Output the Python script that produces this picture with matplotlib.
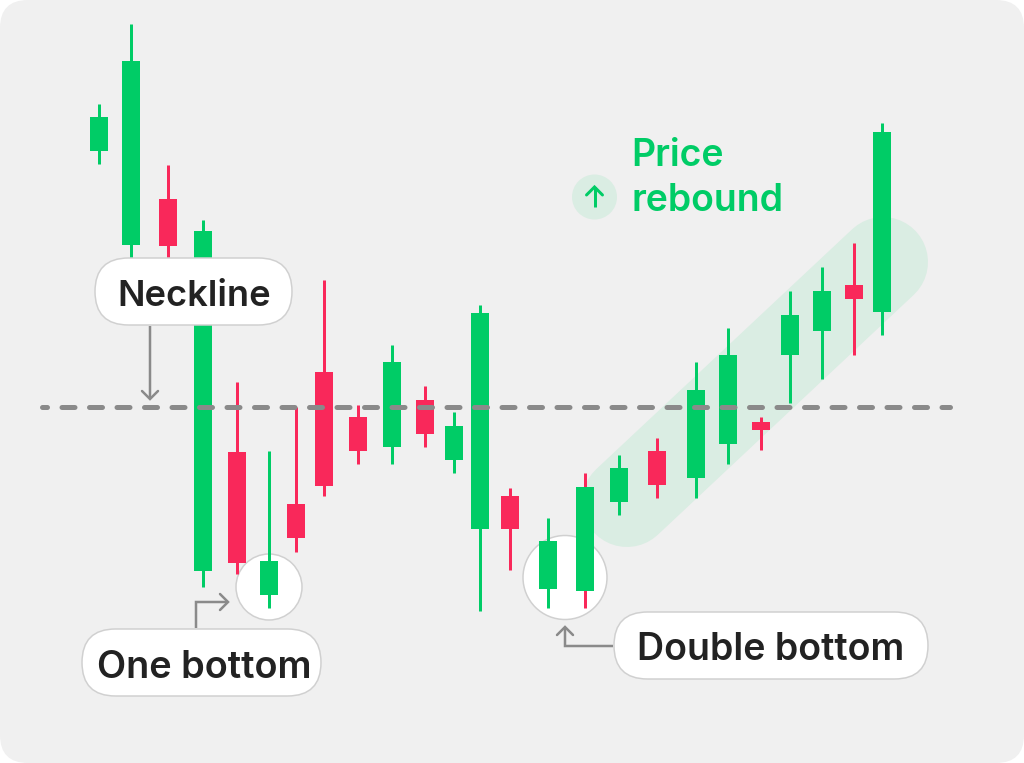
import matplotlib
matplotlib.use("Agg")
import matplotlib.pyplot as plt
from matplotlib.patches import FancyBboxPatch, Circle
from matplotlib.lines import Line2D

candle_x = [99, 131, 168, 203, 237, 269, 296, 324, 358, 392, 425, 454, 480,
            510, 548, 585, 619, 657, 696, 728, 761, 790, 822, 854, 882]
highs = [104, 24, 165, 220, 382, 451, 407, 280, 405, 345, 386, 412, 305,
         488, 518, 473, 455, 438, 362, 328, 417, 291, 267, 243, 123]
body_tops = [117, 61, 199, 231, 452, 561, 504, 372, 417, 362, 400, 426, 313,
             496, 541, 487, 468, 451, 390, 355, 422, 315, 291, 285, 132]
body_bottoms = [151, 245, 246, 571, 563, 595, 538, 486, 451, 447, 434, 460, 529,
                529, 589, 591, 502, 485, 478, 444, 430, 355, 331, 299, 312]
lows = [164, 262, 262, 587, 574, 608, 552, 496, 464, 464, 447, 473, 611,
        570, 608, 608, 515, 498, 498, 464, 450, 403, 379, 355, 335]
directions = ["u", "u", "d", "u", "d", "u", "d", "d", "d", "u", "d", "u", "u",
              "d", "u", "u", "u", "d", "u", "u", "d", "u", "u", "d", "u"]
wick_directions = directions[:15] + ["d"] + directions[16:]
neckline_level = 407
neckline_span = [42, 950]
labels = ["Neckline", "One bottom", "Double bottom"]
annotation = ["Price", "rebound"]

GREEN = "#00cc66"
RED = "#f9285a"
PALE = "#daede3"
GRAY = "#8a8a8a"
INK = "#222222"
FONT = ["Inter", "Noto Sans", "DejaVu Sans"]
W, H = 1024, 763
px = 72 / 100

fig = plt.figure(figsize=(W / 100, H / 100), dpi=100, facecolor="white")
ax = fig.add_axes([0, 0, 1, 1])
ax.set_xlim(0, W)
ax.set_ylim(H, 0)
ax.axis("off")

ax.add_patch(FancyBboxPatch((0, 0), W, H, boxstyle="round,pad=0,rounding_size=28",
                            fc="#f0f0f0", ec="none", zorder=0))

# rising band
ax.add_line(Line2D([627, 883], [502, 262], color=PALE, lw=90 * px,
                   solid_capstyle="round", zorder=1))

# highlight circles
for c, r in (((269, 587), 33), ((565, 577.5), 42)):
    ax.add_patch(Circle(c, r, fc="white", ec="#d0d0d0", lw=1.5 * px, zorder=2))

# candles
col = {"u": GREEN, "d": RED}
ax.vlines(candle_x, highs, lows, colors=[col[d] for d in wick_directions],
          lw=3 * px, zorder=3)
ax.bar(candle_x, [b - t for t, b in zip(body_tops, body_bottoms)], bottom=body_tops,
       width=18.5, color=[col[d] for d in directions], zorder=4)

# neckline
ax.plot(neckline_span, [neckline_level] * 2, color=GRAY, lw=5 * px,
        linestyle=(1.6, (2.6, 2.9)), dash_capstyle="round", zorder=5)


def pill(x0, y0, x1, y1, text, tx, size):
    h = y1 - y0
    ax.add_patch(FancyBboxPatch((x0, y0), x1 - x0, h,
                                boxstyle=f"round,pad=0,rounding_size={h / 2}",
                                fc="white", ec="#d0d0d0", lw=1.5 * px, zorder=7))
    ax.text(tx, (y0 + y1) / 2 + 1, text, ha="center", va="center_baseline", fontsize=size,
            fontweight="semibold", color=INK, family=FONT, zorder=8)


pill(95, 258, 292, 325, labels[0], 194, 26.1)
pill(82, 629, 321, 696, labels[1], 204, 27.3)
pill(614, 612, 928, 679, labels[2], 771, 27.0)


def arrow(xs, ys, head, color=GRAY, lw=2.5):
    kw = dict(color=color, lw=lw * px, zorder=6)
    ax.plot(xs, ys, solid_capstyle="butt", solid_joinstyle="miter", **kw)
    ax.plot(head[0], head[1], solid_capstyle="round", solid_joinstyle="miter", **kw)


arrow([150, 150], [326, 399], ([142, 150, 158], [391, 399, 391]))
arrow([196, 196, 227], [628, 602, 602], ([220, 228, 220], [594, 602, 610]))
arrow([613, 565, 565], [646, 646, 628], ([557, 565, 573], [635, 627, 635]))

# price rebound annotation
ax.add_patch(Circle((594.5, 197), 22.5, fc=PALE, ec="none", zorder=2))
arrow([594.5, 594.5], [207, 187], ([586.5, 594.5, 602.5], [195, 187, 195]), GREEN, 3)
for y, t in zip((166, 211), annotation):
    ax.text(631, y, t, ha="left", va="baseline", fontsize=26.9, fontweight="semibold",
            color=GREEN, family=FONT, zorder=8)

fig.savefig("out.png", dpi=100, facecolor="white")
